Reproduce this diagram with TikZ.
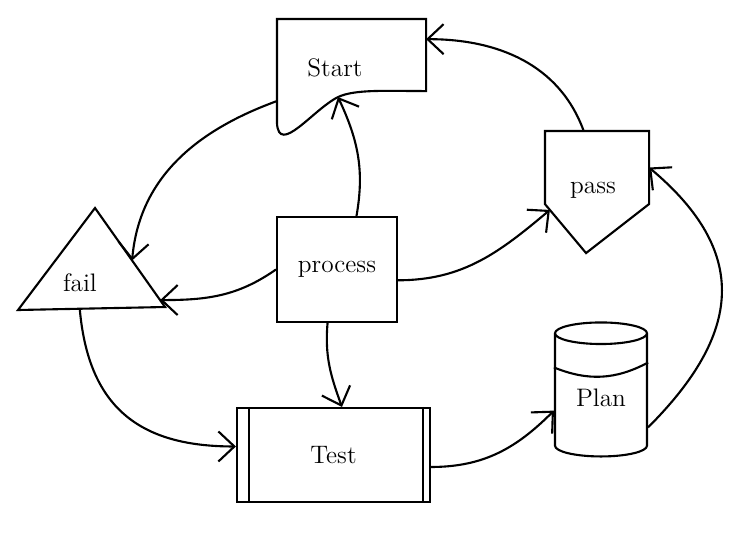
\documentclass[tikz,border=0pt]{standalone}
\usepackage{tikz}
\usetikzlibrary{arrows.meta, shapes.geometric, calc}

\begin{document}
\begin{tikzpicture}[
  >={Straight Barb[length=0.32cm, width=0.6cm]},
  line width=1.2pt,
  font=\Large,
  shapebox/.style={draw=none, inner sep=0pt},
  procbox/.style={draw, minimum width=2.4cm, minimum height=2.1cm},
  testbox/.style={draw, minimum width=3.86cm, minimum height=1.88cm},
  planbox/.style={
    draw, cylinder, shape border rotate=90, aspect=0.35,
    minimum width=1.84cm, minimum height=2.68cm
  },
  labl/.style={inner sep=0pt},
  arr/.style={->}
]

\useasboundingbox (0,0) rectangle (14.6,-10.9);

% document shape
\node[shapebox, minimum width=2.94cm, minimum height=1.4cm] (start) at (7.03,-1.1) {};
\node[labl] (starttxt) at (6.7,-1.36) {Start};
\coordinate (startdip) at ($(start.south)+(-0.27,-0.12)$);
\draw (start.south west) ++(0,-0.64) coordinate (startlow)
  -- (start.north west) -- (start.north east) -- (start.south east)
  .. controls +(-0.8,0) and +(0.34,0.16) .. (startdip)
  .. controls +(-0.5,-0.25) and +(0.04,-0.66) .. (startlow);

% off-page shape
\node[shapebox, minimum width=2.04cm, minimum height=1.42cm] (pass) at (11.94,-3.35) {};
\node[labl] (passtxt) at (11.86,-3.8) {pass};
\draw (pass.south west) -- (pass.north west) -- (pass.north east)
  -- (pass.south east) -- ++(-1.26,-0.98) coordinate (passtip) -- cycle;

% triangle
\coordinate (failtop) at (1.9,-4.16);
\coordinate (failleft) at (0.36,-6.2);
\coordinate (failright) at (3.3,-6.14);
\node[labl] (fail) at (1.6,-5.66) {fail};
\draw (failtop) -- (failright) -- (failleft) -- cycle;

\node[procbox] (process) at (6.74,-5.39) {process};

\node[testbox] (test) at (6.67,-9.1) {Test};
\draw ($(test.north west)+(0.26,0)$) -- ($(test.south west)+(0.26,0)$);
\draw ($(test.north east)+(-0.16,0)$) -- ($(test.south east)+(-0.16,0)$);

\node[planbox] (plan) at (12.02,-7.96) {Plan};
\draw (plan.147) to[bend right=25] (plan.37);

\coordinate (startout) at ($(start.south west)+(0,-0.2)$);
\coordinate (failin1) at ($(failtop)!0.53!(failright)$);
\coordinate (failin2) at ($(failtop)!0.93!(failright)$);
\coordinate (failout) at ($(failleft)!0.42!(failright)$);
\coordinate (passin) at ($(pass.south west)!0.12!(passtip)$);

\draw[arr] (process.70) to[out=80, in=-65] (startdip);
\draw[arr] (startout) to[out=200, in=85] (failin1);
\draw[arr] (process.west) to[out=215, in=0] (failin2);
\draw[arr] (process.350) to[out=0, in=220] (passin);
\draw[arr] (pass.110) to[out=110, in=0] (start.12);
\draw[arr] (process.260) to[out=265, in=110] (test.80);
\draw[arr] (failout) to[out=-85, in=180, looseness=1.2] (test.175);
\draw[arr] (test.353) to[out=0, in=225] (plan.195);
\draw[arr] (plan.328) to[out=45, in=-40, looseness=1.3] (pass.east);

\end{tikzpicture}
\end{document}
